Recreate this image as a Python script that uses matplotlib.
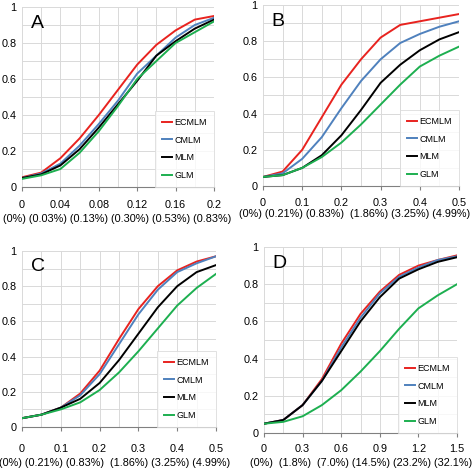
import matplotlib
matplotlib.use("Agg")
import matplotlib.pyplot as plt
import numpy as np

plt.rcParams['font.family'] = ['Liberation Sans', 'DejaVu Sans']

series_names = ["ECMLM", "CMLM", "MLM", "GLM"]
colors = ["#E8231F", "#4F81BD", "#000000", "#1DAF50"]

# Panel A
xA = [0, 0.02, 0.04, 0.06, 0.08, 0.10, 0.12, 0.14, 0.16, 0.18, 0.20]
A_ECMLM = [0.054, 0.08, 0.16, 0.27, 0.40, 0.54, 0.68, 0.79, 0.87, 0.93, 0.95]
A_CMLM = [0.05, 0.075, 0.13, 0.23, 0.35, 0.48, 0.63, 0.73, 0.83, 0.90, 0.94]
A_MLM = [0.05, 0.07, 0.12, 0.21, 0.33, 0.46, 0.59, 0.73, 0.81, 0.88, 0.93]
A_GLM = [0.045, 0.065, 0.10, 0.19, 0.31, 0.45, 0.60, 0.70, 0.80, 0.86, 0.92]
A_ticks = [0, 0.04, 0.08, 0.12, 0.16, 0.2]
A_ticklabels = ["0", "0.04", "0.08", "0.12", "0.16", "0.2"]
A_pct = ["(0%)", "(0.03%)", "(0.13%)", "(0.30%)", "(0.53%)", "(0.83%)"]

# Panel B
xB = [0, 0.05, 0.10, 0.15, 0.20, 0.25, 0.30, 0.35, 0.40, 0.45, 0.50]
B_ECMLM = [0.05, 0.08, 0.20, 0.38, 0.56, 0.70, 0.82, 0.89, 0.91, 0.93, 0.95]
B_CMLM = [0.05, 0.07, 0.15, 0.27, 0.43, 0.58, 0.70, 0.79, 0.84, 0.88, 0.91]
B_MLM = [0.05, 0.06, 0.10, 0.17, 0.28, 0.42, 0.57, 0.67, 0.75, 0.81, 0.85]
B_GLM = [0.05, 0.06, 0.10, 0.16, 0.24, 0.34, 0.45, 0.56, 0.66, 0.72, 0.77]
B_ticks = [0, 0.1, 0.2, 0.3, 0.4, 0.5]
B_ticklabels = ["0", "0.1", "0.2", "0.3", "0.4", "0.5"]
B_pct = ["(0%)", "(0.21%)", "(0.83%)", " (1.86%)", "(3.25%)", "(4.99%)"]

# Panel C
xC = [0, 0.05, 0.10, 0.15, 0.20, 0.25, 0.30, 0.35, 0.40, 0.45, 0.50]
C_ECMLM = [0.05, 0.07, 0.11, 0.19, 0.32, 0.50, 0.67, 0.80, 0.89, 0.94, 0.97]
C_CMLM = [0.05, 0.07, 0.11, 0.18, 0.30, 0.47, 0.64, 0.78, 0.88, 0.93, 0.97]
C_MLM = [0.05, 0.07, 0.11, 0.16, 0.25, 0.38, 0.53, 0.68, 0.80, 0.88, 0.92]
C_GLM = [0.05, 0.07, 0.10, 0.14, 0.21, 0.31, 0.43, 0.56, 0.69, 0.79, 0.87]
C_ticks = [0, 0.1, 0.2, 0.3, 0.4, 0.5]
C_ticklabels = ["0", "0.1", "0.2", "0.3", "0.4", "0.5"]
C_pct = ["(0%)", "(0.21%)", "(0.83%)", " (1.86%)", "(3.25%)", "(4.99%)"]

# Panel D
xD = [0, 0.15, 0.30, 0.45, 0.60, 0.75, 0.90, 1.05, 1.20, 1.35, 1.50]
D_ECMLM = [0.05, 0.07, 0.15, 0.29, 0.48, 0.64, 0.76, 0.85, 0.90, 0.93, 0.955]
D_CMLM = [0.05, 0.07, 0.15, 0.28, 0.46, 0.62, 0.75, 0.84, 0.89, 0.93, 0.95]
D_MLM = [0.05, 0.07, 0.15, 0.28, 0.44, 0.60, 0.73, 0.83, 0.88, 0.92, 0.945]
D_GLM = [0.05, 0.06, 0.09, 0.15, 0.23, 0.33, 0.44, 0.56, 0.67, 0.74, 0.80]
D_ticks = [0, 0.3, 0.6, 0.9, 1.2, 1.5]
D_ticklabels = ["0", "0.3", "0.6", "0.9", "1.2", "1.5"]
D_pct = ["(0%) ", "(1.8%) ", "(7.0%)", "(14.5%)", "(23.2%)", "(32.1%)"]

# letter, x, series, ticks, labels, pct, minor step, axes box (px), pct row center (px), xtick pad
panels = [
    ("A", xA, [A_ECMLM, A_CMLM, A_MLM, A_GLM], A_ticks, A_ticklabels, A_pct, 0.02,
     [22, 7, 214, 187], (117, 219), 6),
    ("B", xB, [B_ECMLM, B_CMLM, B_MLM, B_GLM], B_ticks, B_ticklabels, B_pct, 0.05,
     [263, 5, 459, 186], (355, 214), 6),
    ("C", xC, [C_ECMLM, C_CMLM, C_MLM, C_GLM], C_ticks, C_ticklabels, C_pct, 0.05,
     [22, 251, 216, 427], (115, 463), 9),
    ("D", xD, [D_ECMLM, D_CMLM, D_MLM, D_GLM], D_ticks, D_ticklabels, D_pct, 0.15,
     [264, 247, 457, 433], (361, 463), 5),
]

W, H = 472, 469
FS = 7.8
fig = plt.figure(figsize=(W / 100, H / 100), dpi=100)

for letter, x, ys, ticks, ticklabels, pct, minor, box, pctpos, xpad in panels:
    l, t, r, b = box
    ax = fig.add_axes([l / W, 1 - b / H, (r - l) / W, (b - t) / H])
    ax.set_xlim(ticks[0], ticks[-1])
    ax.set_ylim(0, 1)
    ax.set_xticks(ticks)
    ax.set_xticklabels(ticklabels, fontsize=FS)
    ax.set_xticks(np.arange(ticks[0], ticks[-1] + minor / 2, minor), minor=True)
    ax.set_yticks([0, 0.2, 0.4, 0.6, 0.8, 1.0])
    ax.set_yticklabels(["0", "0.2", "0.4", "0.6", "0.8", "1"], fontsize=FS)
    ax.set_yticks(np.arange(0, 1.01, 0.1), minor=True)
    ax.grid(True, which='both', color='#D9D9D9', linewidth=0.7)
    ax.set_axisbelow(True)
    for s in ['top', 'right', 'left']:
        ax.spines[s].set_visible(False)
    ax.spines['bottom'].set_color('#808080')
    ax.spines['bottom'].set_linewidth(0.8)
    ax.tick_params(axis='y', which='both', length=0, pad=4)
    ax.tick_params(axis='x', which='major', length=3, color='#808080', pad=xpad)
    ax.tick_params(axis='x', which='minor', length=0)
    for name, c, yv in zip(series_names, colors, ys):
        ax.plot(x, yv, color=c, linewidth=1.4, label=name)
    ax.text(0.045, 0.91, letter, transform=ax.transAxes, fontsize=14,
            ha='left', va='center')
    fig.text(pctpos[0] / W, 1 - pctpos[1] / H, " ".join(pct), fontsize=FS,
             ha='center', va='center')
    leg = ax.legend(loc='lower right', fontsize=6.5, handlelength=1.1,
                    handletextpad=0.3, labelspacing=0.95, frameon=True,
                    fancybox=False, borderaxespad=0.05, borderpad=0.75)
    leg.get_frame().set_edgecolor('#D9D9D9')
    leg.get_frame().set_linewidth(0.7)

fig.savefig("out.png", dpi=100)
